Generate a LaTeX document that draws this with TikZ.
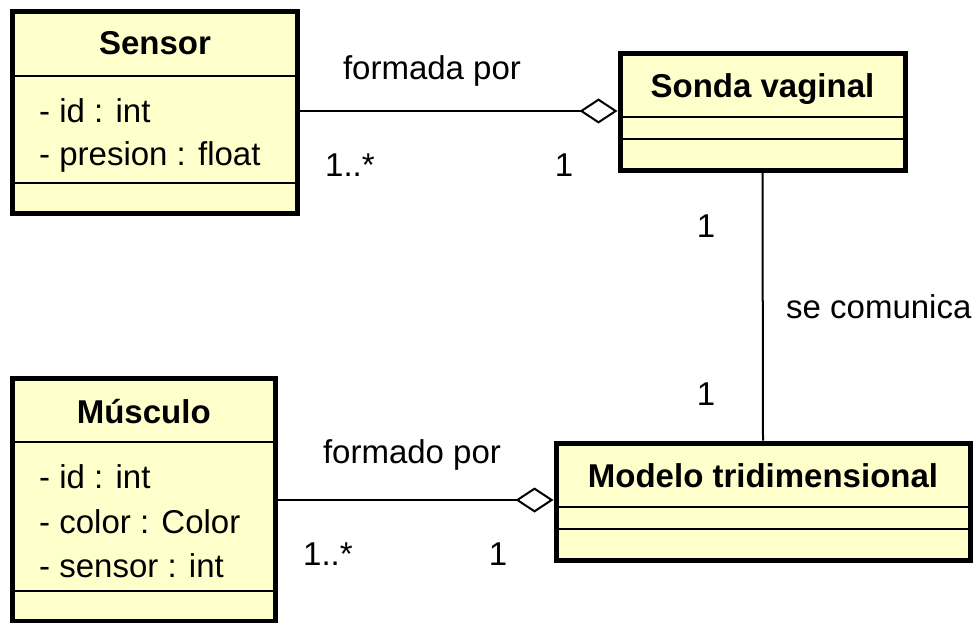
\documentclass[tikz,border=0pt]{standalone}
\usepackage{fontspec}
\setmainfont{Liberation Sans}
\usetikzlibrary{arrows.meta}
\definecolor{classfill}{HTML}{FFFFCC}
\begin{document}
\begin{tikzpicture}[x=1pt,y=-1pt,
  classbox/.style={draw=black, fill=classfill, line width=5pt, rectangle, inner sep=0pt},
  sepline/.style={line width=2pt, black},
  conn/.style={line width=2pt, black},
  agg/.style={conn, -{Diamond[open, length=38pt, width=25pt, line width=2pt]}},
  lbl/.style={inner sep=0pt, font=\fontsize{33}{40}\selectfont, text=black},
  hdr/.style={inner sep=0pt, font=\fontsize{33}{40}\selectfont\bfseries, text=black}]
\useasboundingbox (0,0) rectangle (974,623);

% classes
\node[classbox, minimum width=285pt, minimum height=201pt] (sensor) at (155,112.5) {};
\node[classbox, minimum width=285pt, minimum height=116.5pt] (sonda) at (762.5,111.75) {};
\node[classbox, minimum width=263.5pt, minimum height=243pt] (musculo) at (143.75,499.5) {};
\node[classbox, minimum width=414pt, minimum height=117pt] (modelo) at (763,501.5) {};

% compartment separators
\draw[sepline] (sensor.west |- 0,76) -- (sensor.east |- 0,76);
\draw[sepline] (sensor.west |- 0,183) -- (sensor.east |- 0,183);
\draw[sepline] (sonda.west |- 0,117) -- (sonda.east |- 0,117);
\draw[sepline] (sonda.west |- 0,139) -- (sonda.east |- 0,139);
\draw[sepline] (musculo.west |- 0,442) -- (musculo.east |- 0,442);
\draw[sepline] (musculo.west |- 0,591) -- (musculo.east |- 0,591);
\draw[sepline] (modelo.west |- 0,507) -- (modelo.east |- 0,507);
\draw[sepline] (modelo.west |- 0,529) -- (modelo.east |- 0,529);

% class texts
\node[hdr, anchor=base] (tsensor) at (155,55) {Sensor};
\node[lbl, anchor=base west] (sa1) at (39,123) {- id : int};
\node[lbl, anchor=base west] (sa2) at (39,165) {- presion : float};
\node[hdr, anchor=base] (tsonda) at (762.5,98) {Sonda vaginal};
\node[hdr, anchor=base] (tmusculo) at (143.75,423) {Músculo};
\node[lbl, anchor=base west] (ma1) at (39,488) {- id : int};
\node[lbl, anchor=base west] (ma2) at (39,533) {- color : Color};
\node[lbl, anchor=base west] (ma3) at (39,577) {- sensor : int};
\node[hdr, anchor=base] (tmodelo) at (763,487) {Modelo tridimensional};

% connectors
\draw[agg] (sensor.east |- 0,111) coordinate (c1) -- (sonda.west |- c1);
\draw[agg] (musculo.east |- 0,500) coordinate (c2) -- (modelo.west |- c2);
\draw[conn] (sonda.south) -- (modelo.north);

% connector labels
\node[lbl, anchor=base] (l1) at (432,80) {formada por};
\node[lbl, anchor=base west] (l1a) at (325,176) {1..*};
\node[lbl, anchor=base] (l1b) at (564,176) {1};
\node[lbl, anchor=base] (l2) at (412,463) {formado por};
\node[lbl, anchor=base west] (l2a) at (303,565) {1..*};
\node[lbl, anchor=base] (l2b) at (498,565) {1};
\node[lbl, anchor=base] (l3a) at (706,237) {1};
\node[lbl, anchor=base west] (l3) at (786,318) {se comunica};
\node[lbl, anchor=base] (l3b) at (706,405) {1};
\end{tikzpicture}
\end{document}
